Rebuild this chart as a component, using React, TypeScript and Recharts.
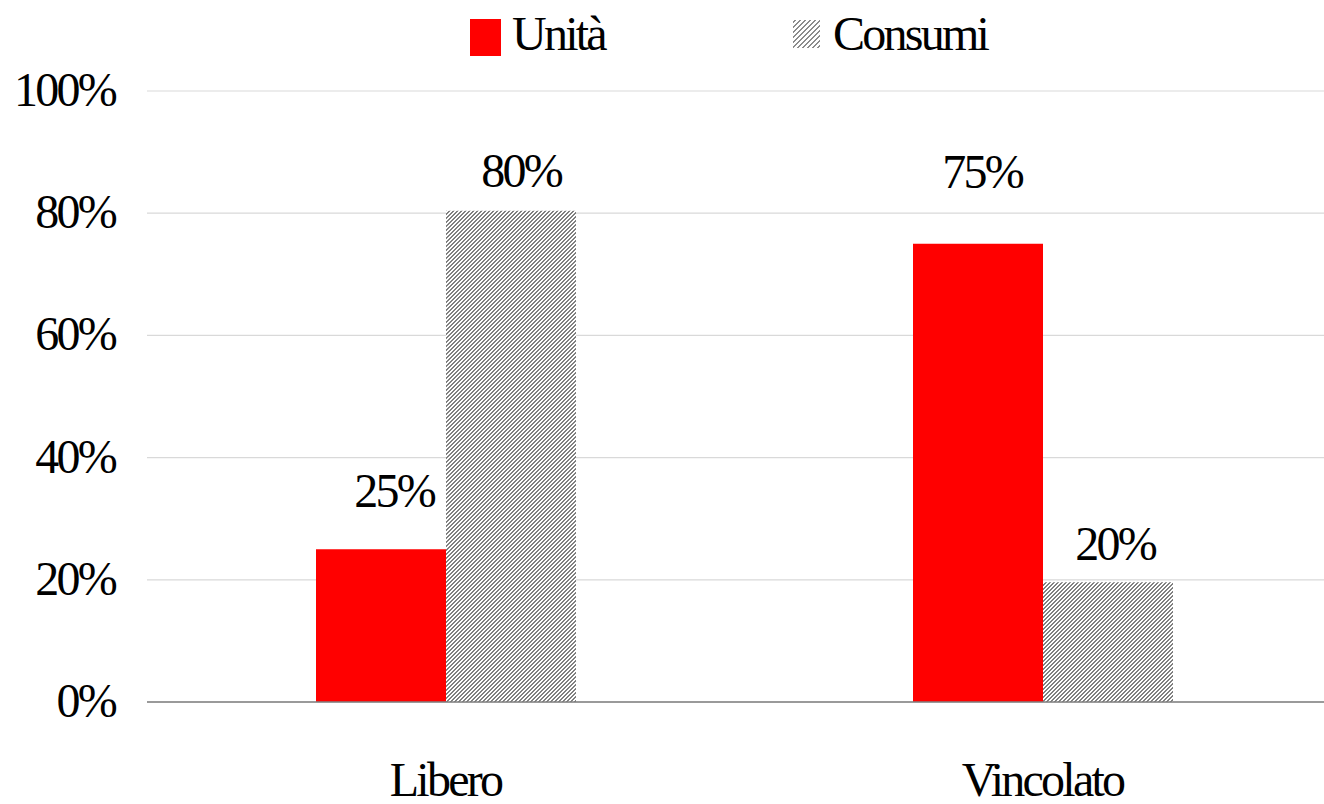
import { BarChart, Bar, XAxis, YAxis, CartesianGrid, LabelList } from "recharts";

const categories = ["Libero", "Vincolato"];
const seriesNames = ["Unità", "Consumi"];
const unitaValues = [25, 75];
const consumiValues = [80.4, 19.6];
const yTicks = [0, 20, 40, 60, 80, 100];

const data = categories.map((c, i) => ({
  category: c,
  unita: unitaValues[i],
  consumi: consumiValues[i],
}));

const FONT = "'Liberation Serif', 'Times New Roman', serif";
const textStyle = {
  fontFamily: FONT,
  fontSize: 48,
  letterSpacing: -2.75,
  fill: "#000",
};

// label nudges, per bar (baseline above bar top, horizontal shift)
const unitaLift = [42, 56];
const unitaShift = [13, 4];
const consumiLift = [24, 22];
const consumiShift = [10, 7];

const makeLabel = (lift: number[], shift: number[]) => (props: any) => {
  const { x, y, width, value, index } = props;
  return (
    <text
      x={x + width / 2 + shift[index]}
      y={y - lift[index]}
      textAnchor="middle"
      style={textStyle}
    >
      {Math.round(value)}%
    </text>
  );
};

const YTick = (props: any) => {
  const { y, payload } = props;
  return (
    <text x={115} y={y + 15} textAnchor="end" style={textStyle}>
      {payload.value}%
    </text>
  );
};

// pixel-crisp "/" hatch
function Hatch({ id, period, thick, color }: { id: string; period: number; thick: number; color: string }) {
  const cells = [];
  for (let y = 0; y < period; y++) {
    for (let k = 0; k < thick; k++) {
      const x = (period - 1 - y + k) % period;
      cells.push(<rect key={`${y}-${k}`} x={x} y={y} width={1} height={1} fill={color} />);
    }
  }
  return (
    <pattern id={id} patternUnits="userSpaceOnUse" width={period} height={period}>
      <rect width={period} height={period} fill="#fff" />
      {cells}
    </pattern>
  );
}

function HatchDefs() {
  return (
    <defs>
      <Hatch id="hatch" period={4} thick={2} color="#808080" />
      <Hatch id="hatchLegend" period={5} thick={2} color="#8c8c8c" />
    </defs>
  );
}

export default function App() {
  return (
    <div
      style={{
        position: "fixed",
        left: 0,
        top: 0,
        width: 1324,
        height: 804,
        overflow: "hidden",
        background: "#fff",
      }}
    >
      <BarChart
        width={1360}
        height={804}
        data={data}
        margin={{ top: 91, right: 19, bottom: 0, left: 0 }}
        barGap={0}
        barSize={130}
      >
        <HatchDefs />
        <CartesianGrid vertical={false} stroke="#d9d9d9" strokeWidth={1.2} />
        <XAxis
          dataKey="category"
          height={102}
          tickLine={false}
          tickSize={0}
          tickMargin={60}
          axisLine={{ stroke: "#7f7f7f", strokeWidth: 1.6 }}
          tick={textStyle}
        />
        <YAxis
          width={147}
          domain={[0, 100]}
          ticks={yTicks}
          interval={0}
          tickLine={false}
          axisLine={false}
          tick={<YTick />}
        />
        <Bar dataKey="unita" name={seriesNames[0]} fill="#ff0000" isAnimationActive={false}>
          <LabelList dataKey="unita" content={makeLabel(unitaLift, unitaShift)} />
        </Bar>
        <Bar dataKey="consumi" name={seriesNames[1]} fill="url(#hatch)" isAnimationActive={false}>
          <LabelList dataKey="consumi" content={makeLabel(consumiLift, consumiShift)} />
        </Bar>
      </BarChart>
      <svg
        width={1324}
        height={70}
        style={{ position: "absolute", left: 0, top: 0 }}
      >
        <HatchDefs />
        <rect x={470} y={19} width={31} height={37} fill="#ff0000" />
        <text x={512} y={50} style={textStyle}>
          {seriesNames[0]}
        </text>
        <rect x={793} y={20} width={27} height={28} fill="url(#hatchLegend)" />
        <text x={833} y={50} style={textStyle}>
          {seriesNames[1]}
        </text>
      </svg>
    </div>
  );
}
